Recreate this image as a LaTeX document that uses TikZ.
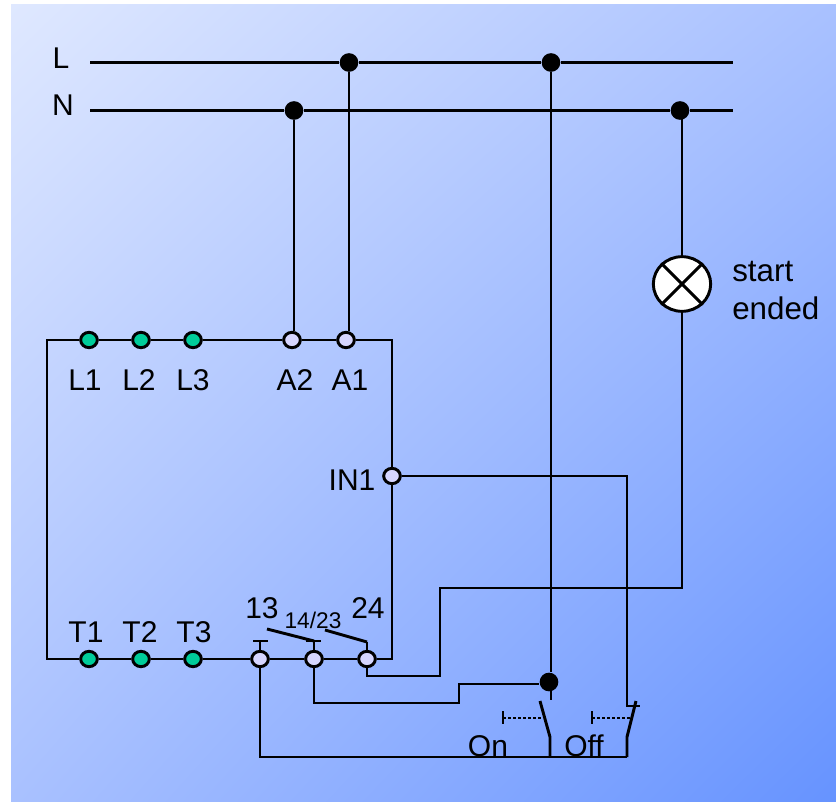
\documentclass[tikz,border=0pt]{standalone}
\usepackage{fontspec}
\setmainfont{Liberation Sans}
\usetikzlibrary{shapes.geometric,shadings}
\definecolor{termgreen}{HTML}{00CC99}
\definecolor{termpale}{HTML}{D6D6FF}
\definecolor{bgtl}{HTML}{DFE8FF}
\definecolor{bgmid}{HTML}{A9C1FF}
\definecolor{bgbr}{HTML}{6693FF}
\tikzset{
    wire/.style={line width=2.2pt, line join=miter},
    term/.style={ellipse, draw, line width=2.2pt, inner sep=0pt, minimum width=12.5pt, minimum height=11.5pt},
    greenterm/.style={term, fill=termgreen},
    paleterm/.style={term, fill=termpale},
    junction/.style={circle, fill=black, inner sep=0pt, minimum size=14pt},
    lbl/.style={font=\fontsize{22.5}{24}\selectfont, inner sep=0pt},
}
\begin{document}
\begin{tikzpicture}[x=0.75pt, y=-0.75pt]
    \useasboundingbox (0,0) rectangle (836,802);
    \shade[upper left=bgtl, upper right=bgmid, lower left=bgmid, lower right=bgbr]
        (11,5) rectangle (836,802);
    % bus bars
    \coordinate (Lstart) at (90,62.5);
    \coordinate (Lend) at (733,62.5);
    \coordinate (Nstart) at (90,110.5);
    \coordinate (Nend) at (733,110.5);
    \node[junction] (jA1) at (349,62.5) {};
    \node[junction] (jOn) at (551,62.5) {};
    \node[junction] (jA2) at (294,110.5) {};
    \node[junction] (jLamp) at (680,110.5) {};
    \node[junction] (jCom) at (549,682) {};
    \node[lbl] (busL) at (61,58) {L};
    \node[lbl] (busN) at (63,105) {N};
    % lamp
    \node[ellipse, draw, line width=2.2pt, fill=white, inner sep=0pt, minimum width=43pt, minimum height=41pt] (lamp) at (682,284) {};
    \draw[wire] (lamp.135) -- (lamp.-45);
    \draw[wire] (lamp.45) -- (lamp.-135);
    \node[lbl, font=\fontsize{23.5}{24}\selectfont, anchor=base west] (start) at (732,282) {start};
    \node[lbl, font=\fontsize{23.5}{24}\selectfont, anchor=base west] (ended) at (732,320) {ended};
    % terminals
    \foreach \name/\x in {1/89, 2/141, 3/193} {
        \node[greenterm] (L\name) at (\x,340) {};
        \node[greenterm] (T\name) at (\x,659) {};
    }
    \node[paleterm] (A2) at (292,340) {};
    \node[paleterm] (A1) at (346,340) {};
    \node[paleterm] (IN1) at (392,476) {};
    \node[paleterm] (c13) at (260,659) {};
    \node[paleterm] (c14) at (314,659) {};
    \node[paleterm] (c24) at (367,659) {};
    \node[lbl] (lL1) at (85,380) {L1};
    \node[lbl] (lL2) at (139,380) {L2};
    \node[lbl] (lL3) at (193,380) {L3};
    \node[lbl] (lA2) at (295,380) {A2};
    \node[lbl] (lA1) at (350,380) {A1};
    \node[lbl] (lIN1) at (352,480) {IN1};
    \node[lbl] (lT1) at (86,632) {T1};
    \node[lbl] (lT2) at (140,632) {T2};
    \node[lbl] (lT3) at (194,632) {T3};
    \node[lbl] (l13) at (262,608) {13};
    \node[lbl, font=\fontsize{17}{18}\selectfont] (l14) at (313,620) {14/23};
    \node[lbl] (l24) at (368,608) {24};
    \node[lbl] (lOn) at (488,746) {On};
    \node[lbl] (lOff) at (584,746) {Off};
    % box
    \coordinate (boxnw) at (47,340);
    \coordinate (boxne) at (392,340);
    \coordinate (boxsw) at (47,659);
    \coordinate (boxse) at (392,659);
    \draw[wire] (L1) -- (L2);
    \draw[wire] (L2) -- (L3);
    \draw[wire] (L3) -- (A2);
    \draw[wire] (A2) -- (A1);
    \draw[wire] (A1) -- (boxne) -- (IN1);
    \draw[wire] (IN1) -- (boxse) -- (c24);
    \draw[wire] (L1) -- (boxnw) -- (boxsw) -- (T1);
    \draw[wire] (T1) -- (T2);
    \draw[wire] (T2) -- (T3);
    \draw[wire] (T3) -- (c13);
    \draw[wire] (c13) -- (c14);
    \draw[wire] (c14) -- (c24);
    % mains
    \draw[wire] (Lstart) -- (jA1) -- (jOn) -- (Lend);
    \draw[wire] (Nstart) -- (jA2) -- (jLamp) -- (Nend);
    \draw[wire] (jA2) -- (jA2 |- A2.north);
    \draw[wire] (jA1) -- (jA1 |- A1.north);
    \draw[wire] (jOn) -- (jOn |- jCom.north);
    \draw[wire] (lamp.north |- jLamp) -- (lamp.north);
    % lamp return
    \coordinate (retA) at (682,588);
    \coordinate (retB) at (440,588);
    \coordinate (retC) at (440,676);
    \coordinate (retD) at (367,676);
    \draw[wire] (lamp.south) -- (retA) -- (retB) -- (retC) -- (retD) -- (c24);
    % on / off
    \coordinate (comA) at (314,703);
    \coordinate (comB) at (459,703);
    \coordinate (comC) at (459,684);
    \draw[wire] (c14) -- (comA) -- (comB) -- (comC) -- (comC -| jCom.west);
    \coordinate (stub) at (551,700);
    \draw[wire] (jCom -| stub) -- (stub);
    \coordinate (inA) at (627,476);
    \coordinate (inB) at (627,706);
    \coordinate (inC) at (640,706);
    \draw[wire] (IN1) -- (inA) -- (inB) -- (inC);
    \coordinate (busA) at (260,757);
    \coordinate (busB) at (627,757);
    \draw[wire] (c13) -- (busA) -- (busB);
    % on button
    \coordinate (onTop) at (540,701);
    \coordinate (onMid) at (550,737);
    \coordinate (onBot) at (550,757);
    \draw[wire] (onTop) -- (onMid) -- (onBot);
    \coordinate (onHead) at (503,718);
    \coordinate (onRod) at (544,718);
    \draw[wire] (503,711) -- (503,724);
    \draw[wire, dash pattern=on 2.2pt off 1.6pt] (onHead) -- (onRod);
    % off button
    \coordinate (offTop) at (636,701);
    \coordinate (offMid) at (627,737);
    \draw[wire] (offTop) -- (offMid) -- (busB);
    \coordinate (offHead) at (592,718);
    \coordinate (offRod) at (631,718);
    \draw[wire] (592,711) -- (592,724);
    \draw[wire, dash pattern=on 2.2pt off 1.6pt] (offHead) -- (offRod);
    % relay contacts
    \coordinate (s13) at (260,641);
    \coordinate (s14) at (314,641);
    \coordinate (s24) at (367,642);
    \draw[wire] (c13) -- (s13);
    \draw[wire] (c14) -- (s14);
    \draw[wire] (c24) -- (s24);
    \draw[wire] (253,641) -- (268,641);
    \draw[wire] (306,641) -- (321,641);
    \draw[wire] (267,629) -- (s14);
    \draw[wire] (325,630) -- (s24);
\end{tikzpicture}
\end{document}
